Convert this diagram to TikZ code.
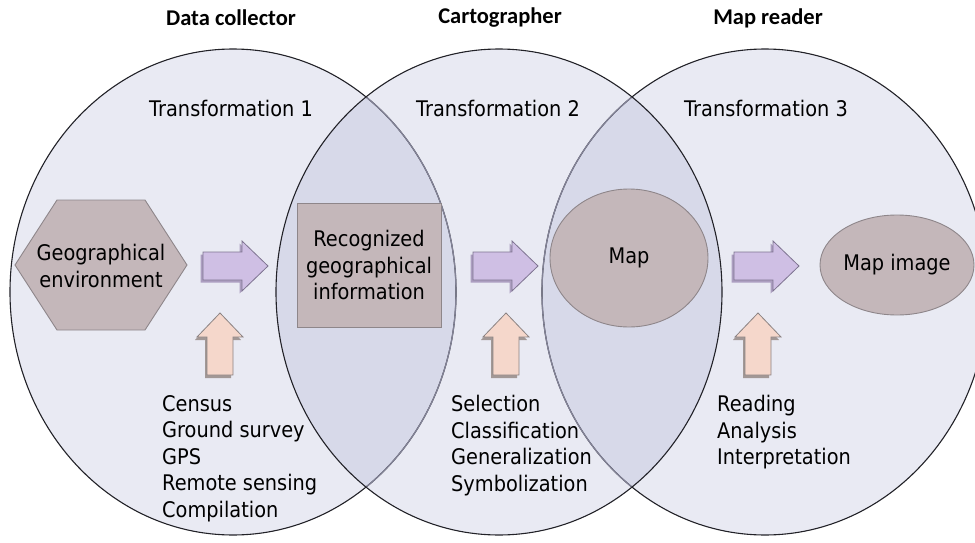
\documentclass[tikz,border=0pt]{standalone}
\usepackage{fontspec}
\usetikzlibrary{shapes.geometric}
\setmainfont{DejaVu Sans}[FakeStretch=0.9]
\newfontfamily\titlefont{Carlito}
\definecolor{ellcol}{RGB}{145,150,195}
\definecolor{shapefill}{RGB}{196,183,186}
\definecolor{shapeline}{RGB}{142,134,138}
\definecolor{rfill}{RGB}{207,191,228}
\definecolor{rshadow}{RGB}{172,158,192}
\definecolor{rline}{RGB}{126,116,144}
\definecolor{ufill}{RGB}{245,215,203}
\definecolor{ushadow}{RGB}{162,152,150}
\definecolor{uline}{RGB}{138,130,130}
\definecolor{edgeblack}{RGB}{34,34,40}
\definecolor{edgegray}{RGB}{130,130,150}
\tikzset{
  txt/.style={font=\fontsize{21.5}{26.5}\selectfont, inner sep=0pt},
  ttl/.style={font=\titlefont\bfseries\fontsize{22.5}{26}\selectfont, inner sep=0pt},
  shapebox/.style={draw=shapeline, fill=shapefill, line width=0.9pt},
  listtxt/.style={txt, align=left, anchor=north west},
  rarr/.pic={
    \fill[rshadow] (-35,-11.5) -- (4,-11.5) -- (4,-22.5) -- (30,2.5) -- (4,27.5) -- (4,16.5) -- (-35,16.5) -- cycle;
    \draw[rline, fill=rfill, line width=0.8pt] (-32.5,-14) -- (6.5,-14) -- (6.5,-25) -- (32.5,0) -- (6.5,25) -- (6.5,14) -- (-32.5,14) -- cycle;
  },
  uarr/.pic={
    \fill[ushadow] (-15,34) -- (-15,-4) -- (-25,-4) -- (-2,-28) -- (21,-4) -- (11,-4) -- (11,34) -- cycle;
    \draw[uline, fill=ufill, line width=0.8pt] (-13,31) -- (-13,-7) -- (-23,-7) -- (0,-31) -- (23,-7) -- (13,-7) -- (13,31) -- cycle;
  }
}
\begin{document}
\begin{tikzpicture}[x=1pt, y=-1pt]
\useasboundingbox (0,0) rectangle (975,543);
\clip (0,0) rectangle (975,543);
% circles
\coordinate (c1) at (233,292);
\coordinate (c3) at (765,292);
\coordinate (c2) at (499,292);
\fill[ellcol, fill opacity=0.2] (c1) ellipse [x radius=223, y radius=243];
\fill[ellcol, fill opacity=0.2] (c3) ellipse [x radius=223, y radius=243];
\fill[ellcol, fill opacity=0.2] (c2) ellipse [x radius=223, y radius=243];
\draw[edgeblack, line width=1.1pt] (c1) ellipse [x radius=223, y radius=243];
\draw[edgeblack, line width=1.1pt] (c3) ellipse [x radius=223, y radius=243];
\begin{scope}
  \clip (c2) ellipse [x radius=222.4, y radius=242.4];
  \draw[edgegray, line width=1.3pt] (c1) ellipse [x radius=223, y radius=243];
  \draw[edgegray, line width=1.3pt] (c3) ellipse [x radius=223, y radius=243];
\end{scope}
\draw[edgeblack, line width=1.1pt] (c2) ellipse [x radius=223, y radius=243];
% titles
\node[ttl] (t1) at (231,18) {Data collector};
\node[ttl] (t2) at (500,18) {Cartographer};
\node[ttl] (t3) at (768,18) {Map reader};
\node[txt] (tr1) at (231,108) {Transformation 1};
\node[txt] (tr2) at (498,108) {Transformation 2};
\node[txt] (tr3) at (766,108) {Transformation 3};
% shapes
\draw[shapebox] (15,265) -- (57,200) -- (145,200) -- (187,265) -- (145,330) -- (57,330) -- cycle;
\node[txt, align=center] (env) at (101,266) {Geographical\\environment};
\node[shapebox, minimum width=144pt, minimum height=124pt] (rec) at (369,265) {};
\node[txt, align=center] (rectxt) at (rec) {Recognized\\geographical\\information};
\node[shapebox, ellipse, minimum width=158pt, minimum height=138pt, inner sep=0pt] (map) at (629,258) {};
\node[txt] at (map) {Map};
\node[shapebox, ellipse, minimum width=154pt, minimum height=100pt, inner sep=0pt] (mapimg) at (897,265) {};
\node[txt] at (mapimg) {Map image};
% arrows
\pic (ra1) at (235.5,266) {rarr};
\pic (ra2) at (505.5,266) {rarr};
\pic (ra3) at (766.5,266) {rarr};
\pic (ua1) at (220,344) {uarr};
\pic (ua2) at (506,344) {uarr};
\pic (ua3) at (758,344) {uarr};
% lists
\node[listtxt] (l1) at (162,395) {Census\\Ground survey\\GPS\\Remote sensing\\Compilation};
\node[listtxt] (l2) at (451,395) {Selection\\Classification\\Generalization\\Symbolization};
\node[listtxt] (l3) at (717,395) {Reading\\Analysis\\Interpretation};
\end{tikzpicture}
\end{document}
